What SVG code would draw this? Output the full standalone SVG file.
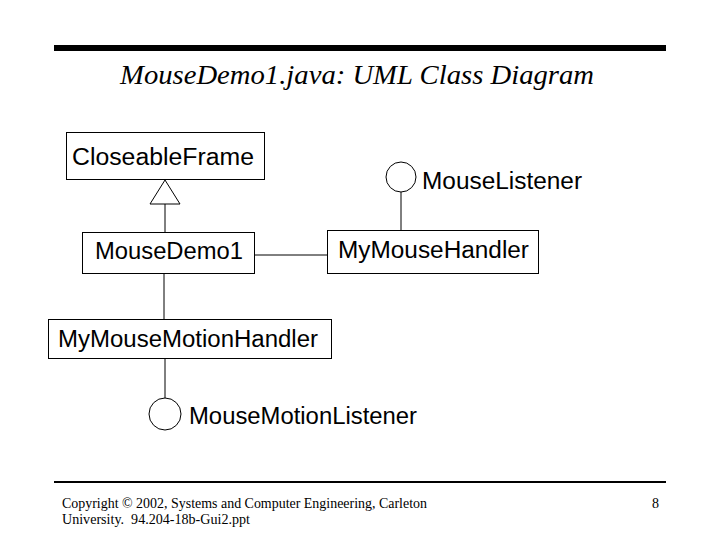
<svg xmlns="http://www.w3.org/2000/svg" width="720" height="540" viewBox="0 0 720 540">
<style>
.box{fill:#fff;stroke:#000;stroke-width:1}
.lbl{font-family:"Liberation Sans",Arial,sans-serif;font-size:23px;fill:#000}
.ln{stroke:#000;stroke-width:1;fill:none}
.iface{fill:#fff;stroke:#000;stroke-width:1}
.foot{font-family:"Liberation Serif","Times New Roman",serif;font-size:14px;fill:#000}
</style>
<rect x="0" y="0" width="720" height="540" fill="#fff"/>
<rect x="54" y="45" width="612" height="6" fill="#000"/>
<text x="120" y="84" font-family="'Liberation Serif','Times New Roman',serif" font-style="italic" font-size="27" textLength="474" lengthAdjust="spacingAndGlyphs">MouseDemo1.java: UML Class Diagram</text>
<g id="connectors">
<line class="ln" x1="165" y1="204" x2="165" y2="232"/>
<polygon class="iface" points="165,180 150,204 180,204"/>
<line class="ln" x1="254" y1="255" x2="327" y2="255"/>
<line class="ln" x1="401" y1="192" x2="401" y2="230"/>
<line class="ln" x1="164" y1="273" x2="164" y2="319"/>
<line class="ln" x1="165" y1="358" x2="165" y2="398"/>
</g>
<g id="CloseableFrame">
<rect class="box" x="66.5" y="132.5" width="198" height="47"/>
<text class="lbl" x="72" y="165" textLength="182" lengthAdjust="spacingAndGlyphs">CloseableFrame</text>
</g>
<g id="MouseDemo1">
<rect class="box" x="82.5" y="232.5" width="172" height="41"/>
<text class="lbl" x="95" y="259" textLength="148" lengthAdjust="spacingAndGlyphs">MouseDemo1</text>
</g>
<g id="MyMouseHandler">
<rect class="box" x="327.5" y="230.5" width="211" height="43"/>
<text class="lbl" x="338" y="258" textLength="191" lengthAdjust="spacingAndGlyphs">MyMouseHandler</text>
</g>
<g id="MouseListener">
<circle class="iface" cx="401" cy="177" r="15"/>
<text class="lbl" x="422" y="189" textLength="160" lengthAdjust="spacingAndGlyphs">MouseListener</text>
</g>
<g id="MyMouseMotionHandler">
<rect class="box" x="48.5" y="319.5" width="283" height="39"/>
<text class="lbl" x="58" y="347" textLength="260" lengthAdjust="spacingAndGlyphs">MyMouseMotionHandler</text>
</g>
<g id="MouseMotionListener">
<circle class="iface" cx="165" cy="414" r="16"/>
<text class="lbl" x="189" y="424" textLength="228" lengthAdjust="spacingAndGlyphs">MouseMotionListener</text>
</g>
<rect x="54" y="481" width="612" height="2" fill="#000"/>
<text class="foot" x="62" y="508" textLength="365" lengthAdjust="spacingAndGlyphs">Copyright © 2002, Systems and Computer Engineering, Carleton</text>
<text class="foot" x="62" y="524" textLength="188" lengthAdjust="spacingAndGlyphs">University.&#160; 94.204-18b-Gui2.ppt</text>
<text class="foot" x="652" y="508">8</text>
</svg>
